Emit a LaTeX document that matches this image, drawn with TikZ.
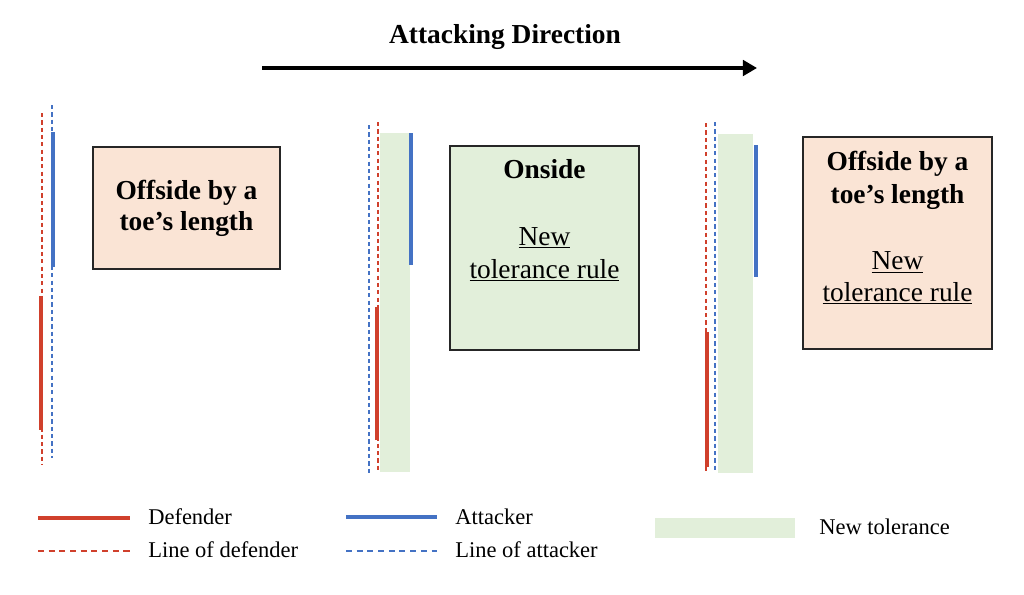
\documentclass[tikz,border=0pt]{standalone}
\usepackage{fontspec}
\setmainfont{Liberation Serif}
\usetikzlibrary{arrows.meta}
\definecolor{defred}{RGB}{208,64,44}
\definecolor{attblue}{RGB}{68,114,196}
\definecolor{tolgreen}{RGB}{226,239,218}
\definecolor{offpeach}{RGB}{250,228,213}
\tikzset{
  defline/.style={defred, line width=2.5pt},
  attline/.style={attblue, line width=2.5pt},
  defdash/.style={defred, line width=0.9pt, dash pattern=on 3pt off 2.2pt},
  attdash/.style={attblue, line width=0.9pt, dash pattern=on 3pt off 2.2pt},
  keydash/.style={dash pattern=on 4.3pt off 3.3pt},
  tolzone/.style={fill=tolgreen, draw=none},
  verdict/.style={draw=black!85, line width=1pt, inner sep=0pt},
  bigtxt/.style={font=\fontsize{19.5}{23.5}\selectfont, align=center},
  keytxt/.style={font=\fontsize{16}{19}\selectfont, anchor=base west, inner sep=0pt},
  dirarrow/.style={line width=2.4pt, -{Triangle[length=10pt,width=11pt]}},
}
\begin{document}
\begin{tikzpicture}[x=0.025cm, y=-0.025cm]
                \useasboundingbox (0,0) rectangle (1024,594);
                % attacking direction
                \node [font=\fontsize{19.5}{23.5}\selectfont\bfseries, anchor=base] (title) at (505,43) {Attacking Direction};
                \coordinate (dirA) at (262,68);
                \coordinate (dirB) at (757,68);
                \draw [dirarrow] (dirA) -- (dirB);
                % first situation
                \draw [defdash] (42,113) -- (42,465);
                \draw [attdash] (52,105) -- (52,458);
                \draw [attline] (53,132) -- (53,267);
                \draw [defline] (41,296) -- (41,430);
                \node [verdict, fill=offpeach, minimum width=4.675cm, minimum height=3.05cm] (offa) at (186.5,208) {};
                \node [bigtxt, font=\fontsize{19.5}{22.5}\selectfont\bfseries] (offatxt) at (186.5,208.5) {Offside by a\\toe's length};
                % second situation
                \fill [tolzone] (380,133) rectangle (410,472);
                \draw [attdash] (369,125) -- (369,475);
                \draw [defdash] (378,122) -- (378,472);
                \draw [attline] (411,133) -- (411,265);
                \draw [defline] (377,307) -- (377,440);
                \node [verdict, fill=tolgreen, minimum width=4.725cm, minimum height=5.1cm] (onb) at (544.5,248) {};
                \node [bigtxt] (onbtxt) at (544.5,220.5) {\textbf{Onside}\\[23.5pt]\underline{New}\\\underline{tolerance rule}};
                % third situation
                \fill [tolzone] (718,134) rectangle (753,473);
                \draw [defdash] (706,123) -- (706,473);
                \draw [attdash] (715,122) -- (715,472);
                \draw [attline] (756,145) -- (756,277);
                \draw [defline] (707,332) -- (707,467);
                \node [verdict, fill=offpeach, minimum width=4.725cm, minimum height=5.3cm] (offc) at (897.5,243) {};
                \node [bigtxt] (offctxt) at (897.5,228) {\textbf{Offside by a}\\\textbf{toe's length}\\[23.5pt]\underline{New}\\[-1pt]\underline{tolerance rule}};
                % key
                \coordinate (kda) at (38,518);
                \coordinate (kdb) at (130,518);
                \draw [defline] (kda) -- (kdb);
                \coordinate (kla) at (38,551);
                \coordinate (klb) at (130,551);
                \draw [defdash, keydash] (kla) -- (klb);
                \node [keytxt] (keydef) at (148,524) {Defender};
                \node [keytxt] (keydefline) at (148,557) {Line of defender};
                \coordinate (kaa) at (346,517);
                \coordinate (kab) at (437,517);
                \draw [attline] (kaa) -- (kab);
                \coordinate (kba) at (346,551);
                \coordinate (kbb) at (437,551);
                \draw [attdash, keydash] (kba) -- (kbb);
                \node [keytxt] (keyatt) at (455,524) {Attacker};
                \node [keytxt] (keyattline) at (455,557) {Line of attacker};
                \fill [tolzone] (655,518) rectangle (795,538);
                \node [keytxt] (keytol) at (819,534) {New tolerance};
            \end{tikzpicture}
\end{document}
